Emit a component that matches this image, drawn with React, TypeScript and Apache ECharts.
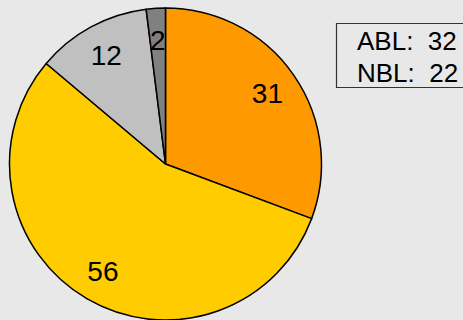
import React, { useEffect, useRef } from "react";
import * as echarts from "echarts";

const categories = ["A", "B", "C", "D"];
const values = [31, 56, 12, 2];
const colors = ["#FF9900", "#FFCC00", "#C0C0C0", "#808080"];
const legendLines = ["ABL:  32", "NBL:  22"];

export default function App() {
  const ref = useRef<HTMLDivElement>(null);
  useEffect(() => {
    const chart = echarts.init(ref.current!, null, { renderer: "svg" });
    const data = categories.map((c, i) => ({
      name: c,
      value: values[i],
      itemStyle: { color: colors[i] },
    }));
    const font = "'Liberation Sans', Arial, Helvetica, sans-serif";
    chart.setOption({
      animation: false,
      backgroundColor: "#E8E8E8",
      series: [
        {
          type: "pie",
          center: [165.5, 164],
          radius: [0, 156],
          startAngle: 90,
          clockwise: true,
          silent: true,
          label: { show: false },
          labelLine: { show: false },
          itemStyle: { borderColor: "#000", borderWidth: 1.5 },
          data,
        },
        {
          type: "pie",
          center: [165.5, 164],
          radius: [86, 156],
          startAngle: 90,
          clockwise: true,
          silent: true,
          z: 5,
          itemStyle: { color: "transparent", borderWidth: 0 },
          label: {
            show: true,
            position: "inside",
            formatter: "{c}",
            fontSize: 28,
            fontFamily: font,
            color: "#000",
          },
          labelLine: { show: false },
          data: categories.map((c, i) => ({ name: c, value: values[i] })),
        },
      ],
      graphic: [
        {
          type: "rect",
          shape: { x: 336.5, y: 23.5, width: 140, height: 64 },
          style: { fill: "#E8E8E8", stroke: "#333", lineWidth: 1.2 },
          z: 10,
        },
        ...legendLines.map((t, i) => ({
          type: "text",
          x: 357,
          y: 41 + i * 31.5,
          z: 11,
          style: {
            text: t,
            fontSize: 26,
            fontFamily: font,
            fill: "#000",
            verticalAlign: "middle",
            align: "left",
          },
        })),
      ],
    });
    return () => chart.dispose();
  }, []);
  return <div ref={ref} style={{ width: 463, height: 320, position: "absolute", left: 0, top: 0 }} />;
}
